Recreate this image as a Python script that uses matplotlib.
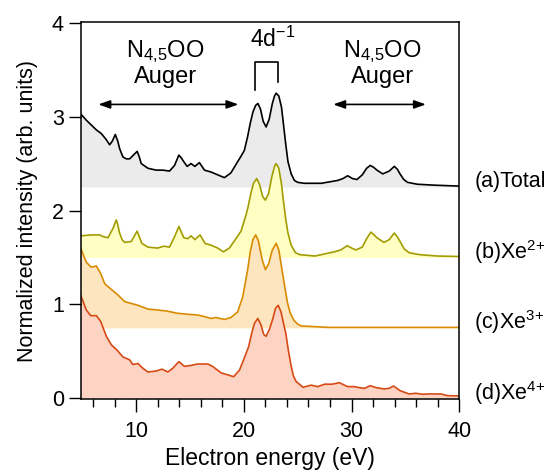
import matplotlib
matplotlib.use("Agg")
import matplotlib.pyplot as plt

plt.rcParams['font.family'] = ['Liberation Sans', 'DejaVu Sans']
plt.rcParams['mathtext.fontset'] = 'custom'
plt.rcParams['mathtext.rm'] = 'Liberation Sans'
plt.rcParams['mathtext.it'] = 'Liberation Sans:italic'

# (a) Total, drawn on offset 2.25
total_x = [4.85, 5.4, 5.85, 6.3, 6.77, 7.2, 7.55, 7.8, 8.07, 8.3, 8.47, 8.78, 9.1, 9.4,
           9.75, 10.1, 10.3, 10.48, 11.1, 11.87, 12.5, 13.1, 13.57, 13.97, 14.2, 14.43,
           14.74, 15.1, 15.46, 15.88, 16.35, 16.96, 17.58, 18.2, 18.8, 19.43, 19.75,
           20.05, 20.36, 20.6, 20.85, 21.1, 21.31, 21.55, 21.8, 22.07, 22.35, 22.65,
           22.85, 23.0, 23.25, 23.5, 23.7, 23.9, 24.1, 24.4, 24.7, 25.0, 25.6, 27.2,
           28.7, 29.2, 29.64, 30.1, 30.5, 31.0, 31.4, 31.74, 32.05, 32.36, 32.9, 33.5,
           33.97, 34.25, 34.5, 34.85, 35.2, 36.1, 37.67, 40.0]
total_y = [3.03, 2.96, 2.91, 2.86, 2.82, 2.76, 2.70, 2.74, 2.81, 2.74, 2.66, 2.57, 2.55, 2.55,
           2.59, 2.63, 2.57, 2.50, 2.45, 2.43, 2.43, 2.42, 2.48, 2.59, 2.56, 2.52,
           2.47, 2.50, 2.47, 2.51, 2.43, 2.41, 2.38, 2.35, 2.40, 2.52, 2.58,
           2.64, 2.79, 2.93, 3.05, 3.12, 3.14, 3.08, 2.95, 2.89, 2.97, 3.14,
           3.22, 3.25, 3.22, 3.10, 2.90, 2.70, 2.52, 2.39, 2.32, 2.30, 2.29, 2.29,
           2.32, 2.34, 2.37, 2.34, 2.33, 2.38, 2.45, 2.48, 2.46, 2.43, 2.39, 2.42,
           2.47, 2.44, 2.39, 2.33, 2.30, 2.28, 2.27, 2.26]

# (b) Xe2+, offset 1.5
xe2_x = [4.85, 5.85, 6.6, 7.0, 7.39, 7.86, 8.16, 8.3, 8.47, 8.7, 8.94, 9.55, 9.85, 10.1,
         10.3, 10.54, 11.1, 12.0, 12.6, 13.1, 13.57, 13.97, 14.2, 14.43, 14.8, 15.1,
         15.46, 15.94, 16.4, 16.96, 17.58, 18.1, 18.66, 19.27, 19.74, 20.2, 20.4, 20.65,
         20.9, 21.2, 21.45, 21.75, 22.0, 22.3, 22.6, 22.85, 23.0, 23.25, 23.5, 23.7,
         23.9, 24.1, 24.4, 24.8, 25.2, 26.6, 28.4, 29.0, 29.6, 30.0, 30.4, 31.0, 31.4,
         31.8, 32.1, 32.36, 33.0, 33.5, 33.97, 34.25, 34.5, 34.9, 35.35, 36.3, 37.97, 40.0]
xe2_y = [1.73, 1.74, 1.74, 1.72, 1.71, 1.81, 1.90, 1.85, 1.76, 1.69, 1.66, 1.67, 1.73, 1.78,
         1.72, 1.65, 1.61, 1.60, 1.62, 1.61, 1.72, 1.83, 1.77, 1.71, 1.70, 1.73,
         1.69, 1.74, 1.65, 1.63, 1.60, 1.56, 1.60, 1.70, 1.78, 1.95, 2.04, 2.18,
         2.29, 2.34, 2.28, 2.15, 2.11, 2.18, 2.36, 2.47, 2.50, 2.45, 2.28, 2.08,
         1.90, 1.76, 1.63, 1.55, 1.53, 1.515, 1.56, 1.58, 1.625, 1.60, 1.58, 1.61, 1.70,
         1.77, 1.74, 1.71, 1.66, 1.69, 1.76, 1.72, 1.67, 1.59, 1.55, 1.53, 1.515, 1.51]

# (c) Xe3+, offset 0.75
xe3_x = [4.85, 5.38, 5.79, 6.05, 6.31, 6.71, 7.09, 7.7, 8.32, 8.94, 9.55, 10.17, 11.1, 12.0,
         12.8, 13.87, 14.8, 15.7, 16.35, 16.96, 17.4, 18.2, 18.8, 19.43, 19.9, 20.36,
         20.6, 20.85, 21.1, 21.35, 21.7, 22.0, 22.3, 22.65, 23.0, 23.25, 23.5, 23.8,
         24.05, 24.3, 24.65, 25.0, 25.33, 26.6, 27.8, 40.0]
xe3_y = [1.60, 1.45, 1.40, 1.40, 1.41, 1.33, 1.22, 1.16, 1.10, 1.03, 1.01, 0.99, 0.95, 0.94,
         0.93, 0.905, 0.895, 0.887, 0.87, 0.85, 0.86, 0.84, 0.86, 0.92, 1.08, 1.37,
         1.56, 1.69, 1.74, 1.68, 1.48, 1.37, 1.43, 1.58, 1.65, 1.58, 1.40, 1.19,
         1.02, 0.91, 0.83, 0.79, 0.77, 0.763, 0.755, 0.755]

# (d) Xe4+, offset 0
xe4_x = [4.85, 5.38, 5.79, 6.31, 6.71, 7.24, 7.7, 8.26, 8.78, 9.4, 9.7, 10.17, 10.63, 11.1,
         11.87, 12.4, 12.95, 13.41, 13.97, 14.49, 15.1, 15.7, 16.65, 17.1, 17.9, 18.5,
         19.06, 19.6, 20.05, 20.45, 20.75, 21.0, 21.3, 21.6, 21.85, 22.07, 22.4, 22.7,
         22.95, 23.2, 23.45, 23.7, 23.9, 24.15, 24.4, 24.6, 24.85, 25.5, 26.25, 26.86,
         27.5, 28.2, 28.87, 29.64, 30.26, 30.73, 31.2, 31.74, 32.3, 33.04, 33.5, 33.9,
         34.5, 35.35, 35.97, 36.6, 37.2, 38.3, 38.9, 40.0]
xe4_y = [1.10, 0.94, 0.88, 0.88, 0.82, 0.66, 0.57, 0.51, 0.44, 0.41, 0.36, 0.37, 0.32, 0.28,
         0.29, 0.31, 0.28, 0.32, 0.39, 0.34, 0.35, 0.365, 0.365, 0.34, 0.27, 0.25,
         0.23, 0.30, 0.43, 0.55, 0.70, 0.80, 0.85, 0.78, 0.68, 0.66, 0.74, 0.85,
         0.96, 0.99, 0.92, 0.79, 0.69, 0.50, 0.34, 0.24, 0.18, 0.117, 0.14, 0.124,
         0.15, 0.15, 0.166, 0.124, 0.124, 0.113, 0.106, 0.134, 0.113, 0.099, 0.106, 0.131,
         0.081, 0.046, 0.053, 0.043, 0.046, 0.046, 0.028, 0.025]

offsets = [2.25, 1.5, 0.75, 0.0]
labels = ['(a)Total', '(b)Xe$^{2\!+}$', '(c)Xe$^{3\!+}$', '(d)Xe$^{4\!+}$']
line_colors = ['black', '#a39c00', '#d98b00', '#d64a14']
fill_colors = ['#ebebeb', '#ffffc4', '#fde6bf', '#fdd3c4']

fig = plt.figure(figsize=(5.52, 4.70), dpi=100)
ax = fig.add_axes([0.146, 0.1506, 0.686, 0.803])

series = [(total_x, total_y), (xe2_x, xe2_y), (xe3_x, xe3_y), (xe4_x, xe4_y)]
for (xs, ys), off, lab, lc, fc in zip(series, offsets, labels, line_colors, fill_colors):
    ax.fill_between(xs, off, ys, color=fc, lw=0)
    ax.plot(xs, ys, color=lc, lw=1.2)
    ax.text(41.4, off + 0.06, lab, fontsize=15.5, va='center', ha='left', clip_on=False)

# annotations
ax.text(22.7, 3.82, '4d$^{\u22121}$', fontsize=16.5, ha='center', va='center')
ax.plot([21.08, 21.08, 23.16, 23.16], [3.28, 3.58, 3.58, 3.37], color='black', lw=1.2)
for xc in [12.7, 32.9]:
    ax.text(xc, 3.69, 'N$_{4{,}5}$OO', fontsize=17, ha='center', va='center')
    ax.text(xc, 3.42, 'Auger', fontsize=17, ha='center', va='center')
arrow = dict(arrowstyle='<|-|>,head_width=0.25,head_length=0.7', color='black', lw=1.2,
             shrinkA=0, shrinkB=0)
ax.annotate('', xy=(6.5, 3.13), xytext=(19.5, 3.13), arrowprops=arrow)
ax.annotate('', xy=(28.3, 3.13), xytext=(36.9, 3.13), arrowprops=arrow)

ax.set_xlim(4.85, 40)
ax.set_ylim(-0.01, 4.01)
ax.set_xticks([10, 20, 30, 40])
ax.set_xticks(range(6, 40, 2), minor=True)
ax.set_yticks([0, 1, 2, 3, 4])
ax.tick_params(axis='both', which='major', direction='out', length=9, width=1, labelsize=15.5)
ax.tick_params(axis='x', which='major', pad=7)
ax.tick_params(axis='y', which='major', pad=3)
ax.tick_params(axis='x', which='minor', direction='out', length=6, width=1)
for sp in ax.spines.values():
    sp.set_linewidth(1.1)
ax.set_xlabel('Electron energy (eV)', fontsize=16.5, labelpad=3)
ax.set_ylabel('Normalized intensity (arb. units)', fontsize=15.5, labelpad=10)

fig.savefig('out.png', dpi=100)
